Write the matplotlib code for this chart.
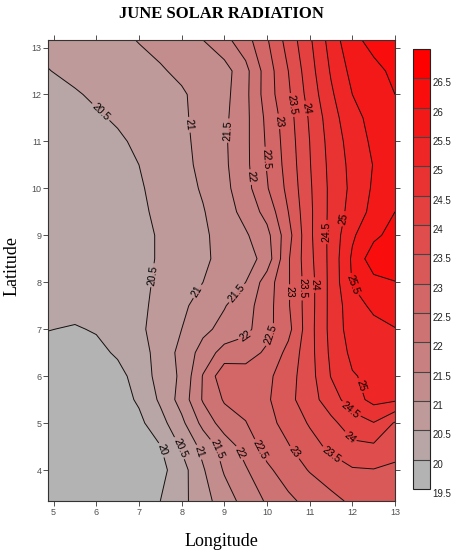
import matplotlib
matplotlib.use('Agg')
import matplotlib.pyplot as plt
import numpy as np
from matplotlib.colors import LinearSegmentedColormap

# grid (lon columns, lat rows, bottom row first)
lons = [4.875, 5.5, 6.0, 6.5, 7.0, 7.5, 8.0, 8.5, 9.0, 9.5, 10.0, 10.5, 11.0, 11.5, 12.0, 12.5, 13.0]
lats = [3.34, 4.0, 4.5, 5.0, 5.5, 6.0, 6.5, 7.0, 7.5, 8.0, 8.5, 9.0, 9.5, 10.0, 10.5, 11.0, 11.5, 12.0, 12.5, 13.16]

radiation = [
    [19.55, 19.55, 19.55, 19.58, 19.70, 20.00, 20.36, 20.80, 21.26, 21.68, 22.06, 22.39, 22.66, 22.87, 23.08, 23.20, 23.28],
    [19.55, 19.55, 19.55, 19.58, 19.65, 19.85, 20.30, 20.95, 21.55, 21.95, 22.40, 22.75, 23.03, 23.25, 23.45, 23.48, 23.40],
    [19.55, 19.55, 19.56, 19.60, 19.75, 19.98, 20.56, 21.15, 21.72, 22.20, 22.70, 22.97, 23.30, 23.62, 23.90, 23.92, 23.70],
    [19.55, 19.55, 19.57, 19.68, 19.88, 20.32, 20.88, 21.65, 22.25, 22.48, 22.85, 23.17, 23.55, 23.88, 24.25, 24.48, 23.95],
    [19.60, 19.60, 19.65, 19.78, 20.07, 20.58, 21.20, 22.05, 22.55, 22.68, 22.93, 23.35, 23.80, 24.25, 24.78, 25.15, 25.08],
    [19.70, 19.70, 19.75, 19.88, 20.15, 20.72, 21.08, 22.03, 22.85, 22.72, 22.88, 23.30, 23.80, 24.52, 24.96, 25.12, 25.22],
    [19.88, 19.85, 19.90, 20.05, 20.30, 20.68, 21.15, 21.70, 22.20, 22.30, 22.58, 23.15, 23.82, 24.60, 25.12, 25.25, 25.35],
    [20.01, 19.97, 20.03, 20.17, 20.36, 20.80, 21.00, 21.38, 21.65, 21.86, 22.35, 22.85, 23.82, 24.65, 25.25, 25.35, 25.48],
    [20.08, 20.12, 20.16, 20.24, 20.38, 20.65, 20.90, 21.20, 21.47, 21.80, 22.30, 22.95, 23.80, 24.65, 25.30, 25.60, 25.75],
    [20.10, 20.14, 20.18, 20.24, 20.36, 20.60, 20.80, 21.00, 21.25, 21.50, 22.25, 22.95, 23.80, 24.65, 25.53, 25.85, 25.98],
    [20.12, 20.16, 20.20, 20.26, 20.36, 20.55, 20.74, 20.93, 21.12, 21.25, 21.72, 22.95, 23.86, 24.65, 25.58, 26.30, 26.40],
    [20.13, 20.17, 20.21, 20.27, 20.36, 20.55, 20.74, 20.93, 21.16, 21.44, 21.85, 22.82, 23.90, 24.65, 25.43, 25.88, 26.20],
    [20.15, 20.19, 20.23, 20.30, 20.41, 20.60, 20.78, 20.97, 21.27, 21.67, 22.17, 23.00, 23.90, 24.63, 25.20, 25.65, 26.00],
    [20.18, 20.22, 20.26, 20.33, 20.45, 20.64, 20.82, 21.05, 21.36, 21.82, 22.46, 23.13, 23.93, 24.62, 25.12, 25.57, 25.85],
    [20.22, 20.27, 20.31, 20.39, 20.50, 20.70, 20.88, 21.10, 21.41, 21.88, 22.53, 23.20, 23.97, 24.65, 25.15, 25.52, 25.78],
    [20.27, 20.33, 20.38, 20.45, 20.56, 20.73, 20.90, 21.13, 21.43, 21.88, 22.57, 23.25, 24.00, 24.70, 25.22, 25.60, 25.80],
    [20.33, 20.40, 20.46, 20.54, 20.65, 20.77, 20.92, 21.16, 21.40, 21.87, 22.62, 23.30, 24.06, 24.78, 25.35, 25.65, 25.85],
    [20.40, 20.47, 20.55, 20.64, 20.73, 20.83, 20.94, 21.17, 21.35, 21.87, 22.75, 23.42, 24.20, 24.92, 25.50, 25.80, 26.00],
    [20.49, 20.58, 20.67, 20.77, 20.85, 20.95, 21.10, 21.22, 21.30, 21.85, 22.75, 23.50, 24.30, 25.05, 25.65, 25.90, 26.08],
    [20.60, 20.70, 20.80, 20.90, 21.02, 21.15, 21.30, 21.50, 21.85, 22.30, 22.95, 23.70, 24.42, 25.20, 25.90, 26.12, 26.35],
]

levels = np.arange(19.5, 27.01, 0.5)
x_ticks = [5, 6, 7, 8, 9, 10, 11, 12, 13]
y_ticks = [4, 5, 6, 7, 8, 9, 10, 11, 12, 13]

# where the contour labels sit on the original (lon, lat)
label_spots = [(7.55, 4.43), (6.14, 11.66), (7.31, 8.15), (7.93, 4.46),
               (8.25, 11.36), (8.32, 7.83), (8.44, 4.39),
               (9.1, 11.23), (9.3, 7.76), (8.79, 4.43),
               (9.62, 10.24), (9.65, 6.70), (9.33, 4.35),
               (10.0, 10.63), (10.12, 6.87), (9.84, 4.43),
               (10.31, 11.43), (10.54, 7.79), (10.62, 4.36),
               (10.62, 11.78), (10.85, 7.87), (11.48, 4.28),
               (10.96, 11.71), (11.09, 7.94), (11.91, 4.67),
               (11.40, 9.07), (11.91, 5.24),
               (11.75, 9.36), (12.09, 5.77), (11.99, 7.94)]

plt.rcParams['font.family'] = ['Liberation Sans Narrow', 'Liberation Sans', 'DejaVu Sans']

fig = plt.figure(figsize=(4.52, 5.57), dpi=100)
ax = fig.add_axes([48.3 / 452, 56 / 557, 346.7 / 452, 461 / 557])

gray_red = LinearSegmentedColormap.from_list('gray_red', ['#b3b3b3', '#ff0000'])
band_colors = [gray_red(i / 14) for i in range(15)]

cf = ax.contourf(lons, lats, radiation, levels=levels, colors=band_colors)
cs = ax.contour(lons, lats, radiation, levels=levels[1:-1], colors='#111111', linewidths=0.7)
labels = ax.clabel(cs, fmt='%g', fontsize=7.5, inline=True, inline_spacing=2,
                   manual=label_spots, colors='black')
for t in labels:
    t.set_family(['Liberation Sans', 'DejaVu Sans'])

ax.set_xlim(4.875, 13.0)
ax.set_ylim(3.34, 13.16)
ax.set_xticks(x_ticks)
ax.set_yticks(y_ticks)
ax.tick_params(direction='out', length=3.5, width=0.6, top=True, right=True,
               labelsize=6.5, labelcolor='#505050', color='#333333', pad=1.5)
for s in ax.spines.values():
    s.set_color('#333333')
    s.set_linewidth(0.8)

# colour scale
cax = fig.add_axes([412.7 / 452, 68 / 557, 17.3 / 452, 440 / 557])
cb = fig.colorbar(cf, cax=cax, ticks=levels[:-1], drawedges=True)
cb.outline.set_edgecolor('#222222')
cb.outline.set_linewidth(0.8)
cb.dividers.set_color('#444444')
cb.dividers.set_linewidth(0.8)
cax.set_yticklabels(['%g' % v for v in levels[:-1]])
cax.tick_params(length=0, labelsize=7, pad=1.5, labelcolor='#222222')
for t in cax.get_yticklabels():
    t.set_va('top')

fig.text(221.7 / 452, 1 - 14 / 557, 'JUNE SOLAR RADIATION', ha='center', va='center',
         fontsize=12, fontweight='bold', family='Liberation Serif')
fig.text(221.7 / 452, 1 - 541 / 557, 'Longitude', ha='center', va='center',
         fontsize=13, family='Liberation Serif')
fig.text(12.5 / 452, 1 - 266 / 557, 'Latitude', ha='center', va='center', rotation=90,
         fontsize=13, family='Liberation Serif')

fig.savefig('out.png', dpi=100)
